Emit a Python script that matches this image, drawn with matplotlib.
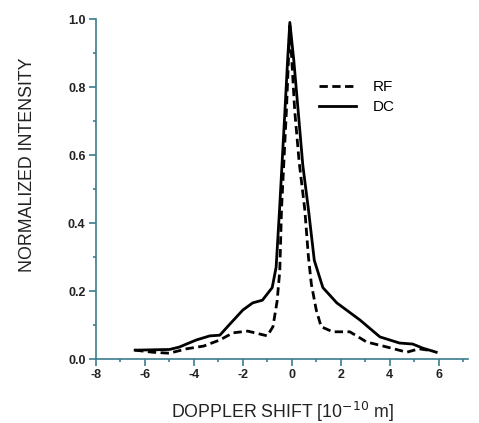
import matplotlib
matplotlib.use("Agg")
import matplotlib.pyplot as plt
from matplotlib.ticker import MultipleLocator

plt.rcParams['font.family'] = ['Liberation Sans', 'DejaVu Sans']

# DC (solid)
dc_x = [-6.4, -5.0, -4.6, -3.9, -3.35, -2.94, -2.5, -2.0, -1.6, -1.2, -0.8, -0.64,
        -0.5, -0.28, -0.17, -0.08, 0.08, 0.26, 0.45, 0.68, 0.92, 1.27, 1.84, 2.78,
        3.6, 4.4, 4.94, 5.35, 5.9]
dc_y = [0.026, 0.028, 0.035, 0.056, 0.068, 0.07, 0.105, 0.144, 0.165, 0.173, 0.21, 0.27,
        0.44, 0.73, 0.88, 0.99, 0.88, 0.73, 0.57, 0.44, 0.29, 0.21, 0.165, 0.115,
        0.065, 0.047, 0.044, 0.032, 0.02]

# RF (dashed)
rf_x = [-6.4, -5.7, -5.0, -4.3, -3.6, -2.94, -2.4, -1.8, -1.0, -0.77, -0.6, -0.49,
        -0.42, -0.22, -0.08, 0.12, 0.3, 0.53, 0.68, 0.8, 1.0, 1.2, 1.67, 2.37,
        3.06, 3.9, 4.7, 5.2, 5.75]
rf_y = [0.026, 0.02, 0.017, 0.03, 0.038, 0.056, 0.077, 0.082, 0.068, 0.095, 0.17, 0.26,
        0.44, 0.73, 0.98, 0.73, 0.58, 0.44, 0.30, 0.22, 0.144, 0.095, 0.08, 0.08,
        0.05, 0.035, 0.02, 0.03, 0.024]

spine_color = '#3b7d8c'
text_color = '#222222'

fig = plt.figure(figsize=(4.79, 4.23), dpi=100)
ax = fig.add_axes([96/479, 1-359/423, (468-96)/479, (359-19)/423])

ax.plot(rf_x, rf_y, color='black', lw=2.0, linestyle=(0, (3, 1.6)), label='RF')
ax.plot(dc_x, dc_y, color='black', lw=2.0, linestyle='-', label='DC')

ax.set_xlim(-8, 7.2)
ax.set_ylim(0, 1.0)

for s in ['top', 'right']:
    ax.spines[s].set_visible(False)
for s in ['left', 'bottom']:
    ax.spines[s].set_color(spine_color)
    ax.spines[s].set_linewidth(1.2)

ax.xaxis.set_minor_locator(MultipleLocator(1))
ax.yaxis.set_minor_locator(MultipleLocator(0.1))
ax.set_yticks([0.0, 0.2, 0.4, 0.6, 0.8, 1.0])
ax.set_yticklabels(['0.0', '0.2', '0.4', '0.6', '0.8', '1.0'])
ax.set_xticks([-8, -6, -4, -2, 0, 2, 4, 6])
ax.set_xticklabels(['-8', '-6', '-4', '-2', '0', '2', '4', '6'])

ax.tick_params(which='major', direction='out', length=5, width=1.2,
               color=spine_color, labelsize=9, labelcolor=text_color, pad=2.5)
ax.tick_params(which='minor', direction='out', length=2.5, width=1.2, color=spine_color)
for lab in ax.get_xticklabels() + ax.get_yticklabels():
    lab.set_fontweight('bold')

ax.set_xlabel('DOPPLER SHIFT [10$^{-10}$ m]', fontsize=12.8, color=text_color, labelpad=13)
ax.set_ylabel('NORMALIZED INTENSITY', fontsize=12.8, color=text_color)
ax.yaxis.set_label_coords(-0.16, 0.57)

ax.legend(loc='upper left', bbox_to_anchor=(0.563, 0.86), frameon=False,
          fontsize=11, handlelength=2.4, handletextpad=1.1, labelspacing=0.4)

fig.savefig('out.png', dpi=100)
